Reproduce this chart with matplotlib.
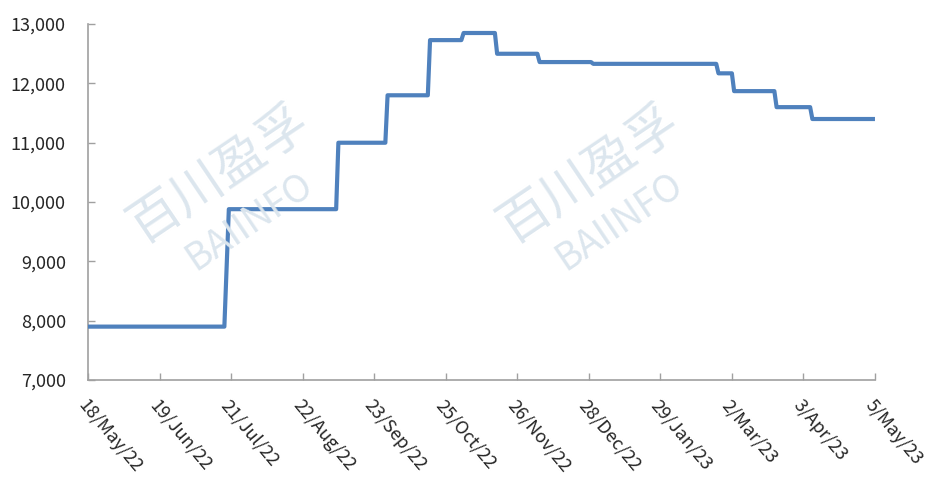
import pandas as pd
import numpy as np
import matplotlib
matplotlib.use('Agg')
import matplotlib.pyplot as plt

# Breakpoints of the step series: each level has a start and an end date
level_start = ['2022-05-18', '2022-07-20', '2022-09-07', '2022-09-29', '2022-10-18',
               '2022-11-02', '2022-11-17', '2022-12-06', '2022-12-30', '2023-02-24',
               '2023-03-03', '2023-03-22', '2023-04-07']
level_end = ['2022-07-18', '2022-09-06', '2022-09-28', '2022-10-17', '2022-11-01',
             '2022-11-16', '2022-12-05', '2022-12-29', '2023-02-23', '2023-03-02',
             '2023-03-21', '2023-04-06', '2023-05-05']
level_value = [7900, 9880, 11000, 11800, 12730, 12850, 12500, 12360, 12330, 12170,
               11870, 11600, 11400]

tick_start = '2022-05-18'
tick_count = 12
tick_step = '32D'
y_ticks = [7000, 8000, 9000, 10000, 11000, 12000, 13000]


def main():
    dates = []
    values = []
    for s, e, v in zip(level_start, level_end, level_value):
        dates += [pd.Timestamp(s), pd.Timestamp(e)]
        values += [v, v]

    fig = plt.figure(figsize=(9.35, 4.82), dpi=100)
    ax = fig.add_axes([0.0941, 0.2116, 0.8417, 0.7384])

    # watermark
    wm_color = '#dce6ee'
    for cx in [219, 589]:
        fig.text(cx / 935, 1 - 174 / 482, '百川盈孚', fontsize=37, color=wm_color,
                 rotation=34, ha='center', va='center', family='Noto Sans CJK SC',
                 zorder=0)
        fig.text((cx + 30) / 935, 1 - 222 / 482, 'BAIINFO', fontsize=27, color=wm_color,
                 rotation=34, ha='center', va='center', family='Noto Sans CJK SC',
                 zorder=0)

    ax.patch.set_alpha(0)
    ax.plot(dates, values, color='#4F81BD', linewidth=3.0, solid_joinstyle='round',
            solid_capstyle='butt', zorder=3)

    ticks = pd.date_range(tick_start, periods=tick_count, freq=tick_step)
    ax.set_xlim(ticks[0], ticks[-1])
    ax.set_ylim(7000, 13000)
    ax.set_xticks(ticks)
    ax.set_xticklabels([f"{d.day}/{d.strftime('%b/%y')}" for d in ticks],
                       rotation=-50, ha='left', va='top', rotation_mode='anchor')
    ax.set_yticks(y_ticks)
    ax.set_yticklabels([f'{v:,}' for v in y_ticks])

    for lab in ax.get_xticklabels() + ax.get_yticklabels():
        lab.set_family('Noto Sans CJK SC')
        lab.set_fontsize(13)
        lab.set_color('#262626')

    for side in ['top', 'right']:
        ax.spines[side].set_visible(False)
    for side in ['left', 'bottom']:
        ax.spines[side].set_color('#a0a0a0')
        ax.spines[side].set_linewidth(1.2)
    ax.tick_params(axis='both', direction='in', length=5, color='#a0a0a0', width=1.0)
    ax.tick_params(axis='y', pad=16)
    ax.tick_params(axis='x', pad=12)

    fig.savefig('out.png', dpi=100)


if __name__ == "__main__":
    main()
